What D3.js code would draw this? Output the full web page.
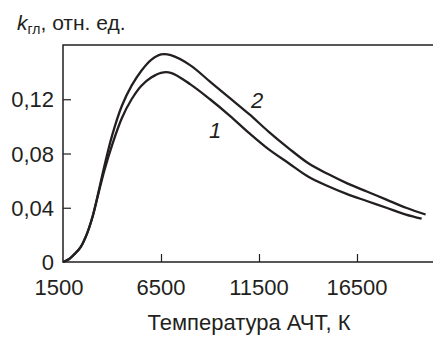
<!DOCTYPE html>
<html>
<head>
<meta charset="utf-8">
<script src="https://cdn.jsdelivr.net/npm/d3@7"></script>
<style>
  body { margin: 0; background: #fff; }
</style>
</head>
<body>
<svg width="433" height="338"></svg>
<script>
const w = 433, h = 338;
const padL = 63, padR = 433, padT = 45, padB = 262;

// data
const tempsTwo = [1500, 1800, 2100, 2400, 2700, 3000, 3300, 3600, 4000, 4500, 5000, 5500, 6000, 6500, 7000, 8000, 9000,
                  10000, 11000, 12000, 13000, 14000, 15000, 16000, 17000, 18000, 19000, 20000];
const curveTwo = [0, 0.002, 0.006, 0.011, 0.020, 0.033, 0.051, 0.070, 0.093, 0.115, 0.130, 0.141, 0.149, 0.153, 0.1525, 0.145, 0.133,
                  0.121, 0.109, 0.096, 0.084, 0.073, 0.065, 0.058, 0.052, 0.046, 0.040, 0.035];
const tempsOne = [1500, 1800, 2100, 2400, 2700, 3000, 3300, 3600, 4000, 4500, 5000, 5500, 6000, 6500, 7000, 8000, 9000,
                  10000, 11000, 12000, 13000, 14000, 15000, 16000, 17000, 18000, 19000, 19800];
const curveOne = [0, 0.002, 0.006, 0.011, 0.020, 0.033, 0.050, 0.067, 0.086, 0.106, 0.120, 0.130, 0.136, 0.1395, 0.1395, 0.131, 0.120,
                  0.108, 0.095, 0.083, 0.073, 0.063, 0.056, 0.050, 0.045, 0.040, 0.035, 0.032];
const xTicks = [1500, 6500, 11500, 16500];
const yTicks = [0, 0.04, 0.08, 0.12];
const yLabels = ["0", "0,04", "0,08", "0,12"];

const x = d3.scaleLinear().domain([1500, 20378]).range([padL, padR]);
const y = d3.scaleLinear().domain([0, 0.16]).range([padB, padT]);

// no serif face is installed, Liberation Sans has the closest widths
const svg = d3.select("svg").style("font-family", "'Liberation Sans', Arial, sans-serif");
const ink = "#231f20";

// frame: left, top and bottom lines (right side open)
svg.append("path")
   .attr("d", `M${padR},${padT}H${padL}V${padB}H${padR}`)
   .attr("fill", "none").attr("stroke", ink).attr("stroke-width", 1.5);

// inward ticks
const axisX = d3.axisBottom(x).tickValues(xTicks).tickSize(-8).tickFormat("");
const xG = svg.append("g").attr("transform", `translate(0,${padB})`).call(axisX);
const axisY = d3.axisLeft(y).tickValues(yTicks).tickSize(-8).tickFormat("");
const yG = svg.append("g").attr("transform", `translate(${padL},0)`).call(axisY);
[xG, yG].forEach(g => {
  g.select(".domain").remove();
  g.selectAll("line").attr("stroke", ink).attr("stroke-width", 1.2);
});
xG.selectAll(".tick").filter(d => d == 1500).remove();
yG.selectAll(".tick").filter(d => d == 0).remove();

// tick labels
svg.selectAll("text.xt").data(xTicks).join("text").attr("class", "xt")
   .attr("x", (d, i) => x(d) - (i == 0 ? 4 : 0)).attr("y", 295)
   .attr("text-anchor", "middle").attr("fill", ink).style("font-size", "22px")
   .text(d => d);
svg.selectAll("text.yt").data(yTicks).join("text").attr("class", "yt")
   .attr("x", 54).attr("y", d => y(d) + 8)
   .attr("text-anchor", "end").attr("fill", ink).style("font-size", "22px")
   .text((d, i) => yLabels[i]);

// axis titles
svg.append("text").attr("x", 249).attr("y", 330).attr("text-anchor", "middle")
   .attr("fill", ink).style("font-size", "22px").text("Температура АЧТ, К");
const yt = svg.append("text").attr("x", 17).attr("y", 30).attr("fill", ink).style("font-size", "21px");
yt.append("tspan").style("font-style", "italic").text("k");
yt.append("tspan").attr("dy", 4).style("font-size", "14px").text("гл");
yt.append("tspan").attr("dy", -4).text(", отн. ед.");

// curves
const line = d3.line().x(d => x(d[0])).y(d => y(d[1])).curve(d3.curveCatmullRom.alpha(0.5));
svg.append("path").datum(tempsOne.map((t, i) => [t, curveOne[i]]))
   .attr("d", line).attr("fill", "none").attr("stroke", ink).attr("stroke-width", 2.3);
svg.append("path").datum(tempsTwo.map((t, i) => [t, curveTwo[i]]))
   .attr("d", line).attr("fill", "none").attr("stroke", ink).attr("stroke-width", 2.3);

// curve numbers
svg.append("text").attr("x", 209).attr("y", 138).attr("fill", ink).style("font-size", "22px")
   .style("font-style", "italic").text("1");
svg.append("text").attr("x", 251).attr("y", 108).attr("fill", ink).style("font-size", "22px")
   .style("font-style", "italic").text("2");
</script>
</body>
</html>
